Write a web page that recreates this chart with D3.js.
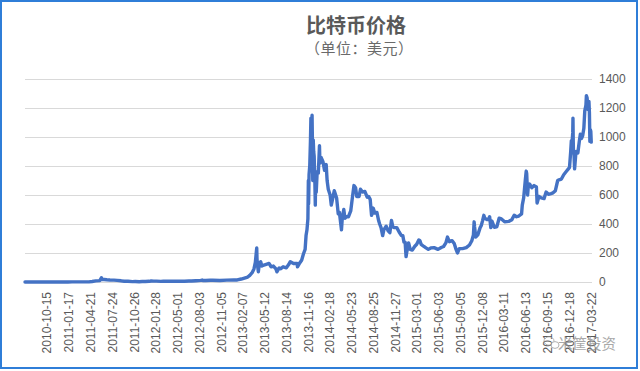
<!DOCTYPE html>
<html><head><meta charset="utf-8">
<script src="https://cdn.jsdelivr.net/npm/d3@7"></script>
<style>body{margin:0;background:#fff}svg{display:block}</style>
</head><body><svg id="c" width="640" height="371"></svg>
<script>
const titleText = "比特币价格";
const subtitleText = "（单位：美元）";
const watermarkText = "米筐投资";
const xTickLabels = ["2010-10-15","2011-01-17","2011-04-21","2011-07-24","2011-10-26","2012-01-28","2012-05-01","2012-08-03","2012-11-05","2013-02-07","2013-05-12","2013-08-14","2013-11-16","2014-02-18","2014-05-23","2014-08-25","2014-11-27","2015-03-01","2015-06-03","2015-09-05","2015-12-08","2016-03-11","2016-06-13","2016-09-15","2016-12-18","2017-03-22"];
const yTicks = [0,200,400,600,800,1000,1200,1400];
const xDomain = ["2010-07-13","2017-03-22"];
const priceData = [
["2010-07-13",0.06],["2010-08-01",0.06],["2010-09-01",0.06],["2010-10-01",0.06],["2010-10-15",0.1],["2010-11-06",0.39],["2010-11-20",0.28],["2010-12-15",0.24],["2010-12-31",0.3],
["2011-01-15",0.4],["2011-02-01",0.7],["2011-02-10",1.1],["2011-03-01",0.9],["2011-04-01",0.78],["2011-04-15",1.0],["2011-04-29",3.5],["2011-05-15",7.5],["2011-06-01",9.6],["2011-06-08",29.6],["2011-06-12",17],["2011-06-20",17.5],["2011-07-01",15.4],["2011-07-15",13.8],["2011-08-01",13],["2011-08-15",11],["2011-09-01",8.2],["2011-09-15",5],["2011-10-01",5],["2011-10-20",2.3],["2011-11-01",3.2],["2011-11-18",2.1],["2011-12-01",3],["2011-12-15",3.2],["2011-12-31",4.7],
["2012-01-09",7],["2012-01-20",6.3],["2012-02-01",6],["2012-02-20",4.4],["2012-03-01",4.9],["2012-04-01",4.9],["2012-05-01",5],["2012-06-01",5.3],["2012-06-20",6.5],["2012-07-01",6.7],["2012-07-20",8.8],["2012-08-10",11.5],["2012-08-16",13.5],["2012-08-20",10],["2012-09-01",10.2],["2012-09-20",12.4],["2012-10-01",12.4],["2012-11-01",10.6],["2012-12-01",12.6],["2012-12-31",13.5],
["2013-01-15",14.3],["2013-02-01",20.5],["2013-02-15",27],["2013-03-01",34],["2013-03-10",46],["2013-03-20",64],["2013-03-28",90],["2013-04-03",135],["2013-04-09",235],["2013-04-10",165],["2013-04-12",120],["2013-04-16",70],["2013-04-20",125],["2013-04-26",140],["2013-05-01",110],["2013-05-10",117],["2013-05-20",122],["2013-06-01",128],["2013-06-10",105],["2013-06-20",110],["2013-07-01",90],["2013-07-05",70],["2013-07-15",97],["2013-07-22",92],["2013-08-01",105],["2013-08-15",98],["2013-08-25",120],["2013-09-01",140],["2013-09-15",128],["2013-10-01",128],["2013-10-02",105],["2013-10-10",127],["2013-10-20",150],["2013-10-28",195],["2013-11-04",225],["2013-11-08",320],["2013-11-12",360],["2013-11-16",435],["2013-11-18",700],["2013-11-19",540],["2013-11-21",740],["2013-11-24",800],["2013-11-27",970],["2013-11-29",1130],["2013-12-01",960],["2013-12-04",1150],["2013-12-05",1030],["2013-12-07",700],["2013-12-09",980],["2013-12-11",900],["2013-12-13",870],["2013-12-16",700],["2013-12-18",530],["2013-12-19",680],["2013-12-22",620],["2013-12-26",760],["2013-12-31",750],
["2014-01-05",940],["2014-01-07",820],["2014-01-12",860],["2014-01-20",830],["2014-01-27",770],["2014-02-03",810],["2014-02-07",700],["2014-02-12",640],["2014-02-20",600],["2014-02-25",530],["2014-03-01",560],["2014-03-10",630],["2014-03-20",580],["2014-03-27",470],["2014-04-01",480],["2014-04-10",360],["2014-04-14",450],["2014-04-20",500],["2014-04-25",440],["2014-05-01",450],["2014-05-10",450],["2014-05-20",490],["2014-05-27",580],["2014-06-03",665],["2014-06-10",650],["2014-06-15",590],["2014-06-25",590],["2014-07-01",640],["2014-07-10",620],["2014-07-20",625],["2014-07-30",585],["2014-08-05",590],["2014-08-12",570],["2014-08-18",460],["2014-08-25",510],["2014-09-01",475],["2014-09-10",480],["2014-09-18",420],["2014-09-22",400],["2014-09-28",375],["2014-10-05",320],["2014-10-10",360],["2014-10-20",385],["2014-10-28",355],["2014-11-05",340],["2014-11-12",425],["2014-11-18",380],["2014-11-25",375],["2014-12-05",375],["2014-12-15",345],["2014-12-25",320],["2014-12-31",320],
["2015-01-05",275],["2015-01-10",275],["2015-01-14",175],["2015-01-17",205],["2015-01-25",270],["2015-02-01",225],["2015-02-10",220],["2015-02-20",245],["2015-03-01",260],["2015-03-10",290],["2015-03-15",285],["2015-03-20",260],["2015-04-01",245],["2015-04-10",235],["2015-04-20",225],["2015-05-01",235],["2015-05-15",237],["2015-06-01",225],["2015-06-15",238],["2015-06-25",245],["2015-07-05",270],["2015-07-12",310],["2015-07-20",278],["2015-08-01",285],["2015-08-10",265],["2015-08-18",225],["2015-08-24",200],["2015-09-01",230],["2015-09-15",230],["2015-10-01",237],["2015-10-15",255],["2015-10-25",285],["2015-11-01",325],["2015-11-04",415],["2015-11-06",380],["2015-11-11",310],["2015-11-20",325],["2015-11-30",375],["2015-12-05",390],["2015-12-10",420],["2015-12-16",460],["2015-12-20",440],["2015-12-31",430],
["2016-01-05",430],["2016-01-10",450],["2016-01-15",375],["2016-01-20",420],["2016-01-30",378],["2016-02-10",380],["2016-02-20",440],["2016-03-01",435],["2016-03-15",415],["2016-04-01",418],["2016-04-15",430],["2016-04-25",460],["2016-05-05",450],["2016-05-15",455],["2016-05-27",470],["2016-05-30",530],["2016-06-05",580],["2016-06-12",700],["2016-06-16",765],["2016-06-18",750],["2016-06-22",600],["2016-06-25",660],["2016-07-01",675],["2016-07-10",650],["2016-07-20",665],["2016-07-30",655],["2016-08-02",545],["2016-08-10",590],["2016-08-20",580],["2016-09-01",575],["2016-09-10",620],["2016-09-20",605],["2016-10-01",610],["2016-10-10",615],["2016-10-20",630],["2016-10-30",700],["2016-11-05",705],["2016-11-15",710],["2016-11-25",740],["2016-12-05",760],["2016-12-15",780],["2016-12-20",790],["2016-12-25",895],["2016-12-28",975],["2016-12-31",960],
["2017-01-03",1030],["2017-01-04",1130],["2017-01-05",990],["2017-01-06",890],["2017-01-08",900],["2017-01-11",780],["2017-01-13",820],["2017-01-17",900],["2017-01-20",895],["2017-01-25",890],["2017-01-31",965],["2017-02-05",1020],["2017-02-10",990],["2017-02-15",1010],["2017-02-20",1060],["2017-02-24",1180],["2017-03-01",1220],["2017-03-03",1285],["2017-03-06",1270],["2017-03-10",1190],["2017-03-11",1240],["2017-03-14",1245],["2017-03-16",1170],["2017-03-18",970],["2017-03-20",1050],["2017-03-22",1040],["2017-03-24",965]
];

const parse = d3.timeParse("%Y-%m-%d");
const fmt = d3.timeFormat("%Y-%m-%d");
const data = priceData.map(([d, v]) => ({date: parse(d), v}));

const svg = d3.select("#c");
const plot = {left: 25, right: 592, top: 79, bottom: 282};

const x = d3.scaleTime().domain(xDomain.map(parse)).range([25, 590.8]);
const y = d3.scaleLinear().domain([0, 1400]).range([plot.bottom, plot.top]);

// frame
svg.append("rect").attr("x", 1).attr("y", 1).attr("width", 636).attr("height", 367)
  .attr("fill", "#fff").attr("stroke", "#2f7ed8").attr("stroke-width", 2);

// y axis (right) with gridlines
const yAxis = svg.append("g").attr("transform", `translate(${plot.right},0)`)
  .call(d3.axisRight(y).tickValues(yTicks).tickSize(-(plot.right - plot.left)).tickPadding(7).tickFormat(d3.format("d")));
yAxis.select(".domain").remove();
yAxis.selectAll("line").attr("stroke", "#d9d9d9").attr("stroke-width", 1);
yAxis.selectAll("text").attr("fill", "#595959").style("font-family", "'Liberation Sans', Arial, sans-serif").style("font-size", "12px");

// x axis
const xAxis = svg.append("g").attr("transform", `translate(0,${plot.bottom})`)
  .call(d3.axisBottom(x).tickValues(xTickLabels.map(parse)).tickSize(0).tickFormat(fmt));
xAxis.select(".domain").remove();
xAxis.selectAll("text")
  .attr("transform", "rotate(-90)").attr("x", -10).attr("y", 0).attr("dy", "0.35em")
  .style("text-anchor", "end").attr("fill", "#595959")
  .style("font-family", "'Liberation Sans', Arial, sans-serif").style("font-size", "12px");

// line
svg.append("path").datum(data)
  .attr("fill", "none").attr("stroke", "#4472c4").attr("stroke-width", 3.4)
  .attr("stroke-linejoin", "round").attr("stroke-linecap", "round")
  .attr("d", d3.line().x(d => x(d.date)).y(d => y(d.v)));

// titles
svg.append("text").attr("x", 356).attr("y", 33).attr("text-anchor", "middle")
  .attr("fill", "#595959").style("font-family", "'Noto Sans CJK SC', sans-serif")
  .style("font-size", "20px").style("font-weight", "bold").text(titleText);
svg.append("text").attr("x", 305).attr("y", 54).attr("text-anchor", "start")
  .attr("textLength", 108).attr("lengthAdjust", "spacing")
  .attr("fill", "#6a6a6a").style("font-family", "'Noto Sans CJK SC', sans-serif")
  .style("font-size", "15px").text(subtitleText);

// watermark
const wm = svg.append("g").attr("opacity", 0.75);
wm.append("ellipse").attr("cx", 549).attr("cy", 341).attr("rx", 5).attr("ry", 4.2)
  .attr("fill", "none").attr("stroke", "#9a9a9a").attr("stroke-width", 1);
wm.append("ellipse").attr("cx", 555).attr("cy", 345).attr("rx", 4).attr("ry", 3.4)
  .attr("fill", "#fff").attr("stroke", "#9a9a9a").attr("stroke-width", 1);
wm.append("text").attr("x", 558).attr("y", 349).attr("fill", "#8c8c8c")
  .style("font-family", "'Noto Sans CJK SC', sans-serif").style("font-size", "14.5px").text(watermarkText);
</script></body></html>
